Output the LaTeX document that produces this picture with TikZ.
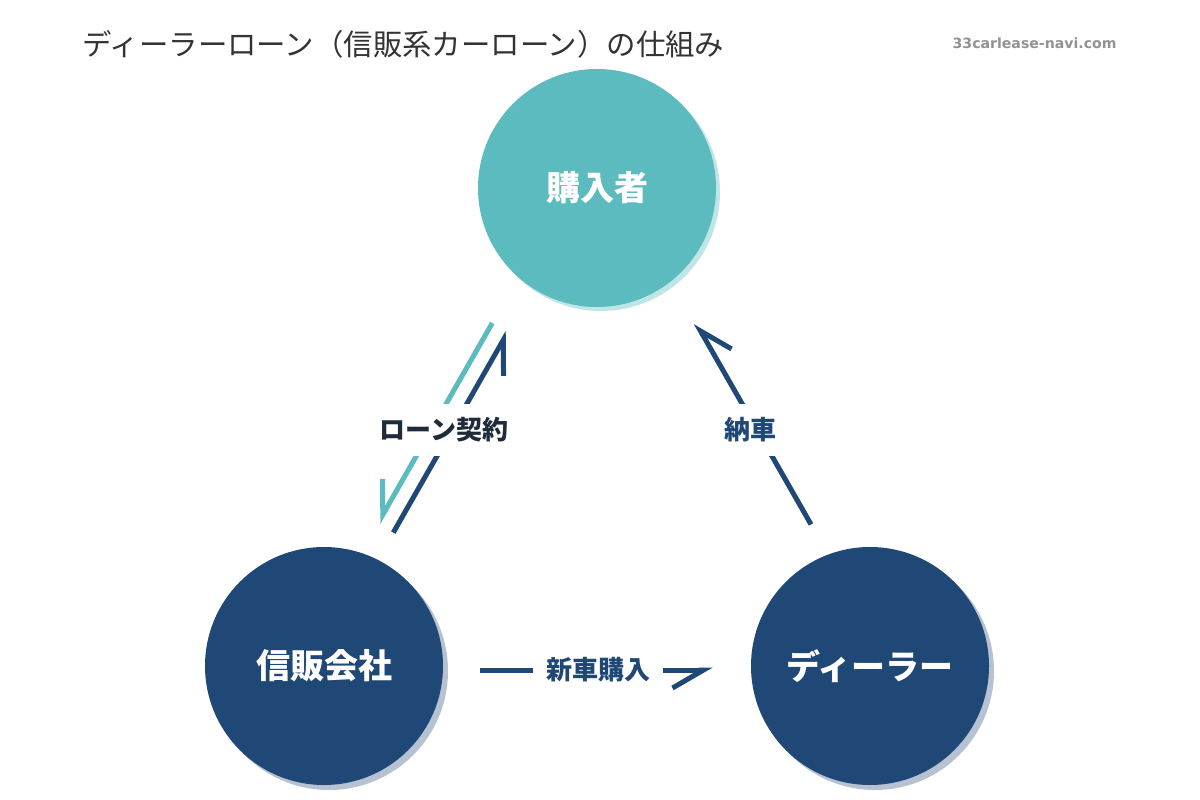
\documentclass[tikz,border=0pt]{standalone}
\usepackage{fontspec}
\setmainfont{Noto Sans CJK JP}
\newfontfamily\sitefont{DejaVu Sans}
\usetikzlibrary{arrows.meta,shadows}
\definecolor{buyerteal}{HTML}{5BBBBE}
\definecolor{tealshade}{HTML}{BFE5E6}
\definecolor{navy}{HTML}{1F4876}
\definecolor{navyshade}{HTML}{B6C2D2}
\definecolor{titlegray}{HTML}{333333}
\definecolor{inkdark}{HTML}{1E2B38}
\definecolor{sitegray}{HTML}{929292}
\tikzset{
 party/.style={circle,minimum size=238pt,inner sep=0pt,text=white,
  font=\fontsize{34}{40}\selectfont\bfseries},
 flow/.style={line width=5pt,
  -{Straight Barb[harpoon,swap,length=31pt,width=36pt,line width=5pt]}},
 flowlabel/.style={fill=white,inner xsep=13pt,inner ysep=13.5pt,
  font=\fontsize{26}{30}\selectfont\bfseries},
}
\begin{document}
\begin{tikzpicture}[x=1pt,y=-1pt]
 \useasboundingbox[fill=white] (0,0) rectangle (1200,800);
 % title
 \node[anchor=west,text=titlegray,font=\fontsize{29.4}{33}\selectfont] (title) at (79,44) {ディーラーローン（信販系カーローン）の仕組み};
 \node[anchor=east,text=sitegray,font=\sitefont\bfseries\fontsize{14.1}{16}\selectfont] (site) at (1120,43) {33carlease-navi.com};
 % parties
 \node[party,fill=buyerteal,drop shadow={shadow xshift=4pt,shadow yshift=-4pt,opacity=1,fill=tealshade}] (buyer) at (597,188) {購入者};
 \node[party,fill=navy,drop shadow={shadow xshift=5pt,shadow yshift=-5pt,opacity=1,fill=navyshade}] (shinpan) at (324,666) {信販会社};
 \node[party,fill=navy,drop shadow={shadow xshift=5pt,shadow yshift=-5pt,opacity=1,fill=navyshade}] (dealer) at (870,666) {ディーラー};
 % loan contract
 \draw[flow,buyerteal,shorten <=50pt,shorten >=32pt,transform canvas={shift={(-20.8pt,11.9pt)}}] (buyer) -- (shinpan);
 \draw[flow,navy,shorten <=31pt,shorten >=50pt,transform canvas={shift={(-5.2pt,3pt)}}] (shinpan) -- (buyer);
 % delivery
 \draw[flow,navy,shorten <=33pt,shorten >=47pt,transform canvas={shift={(16.5pt,9.4pt)}}] (dealer) -- (buyer);
 % purchase
 \draw[flow,navy,shorten <=37pt,shorten >=38pt,transform canvas={yshift=-4pt}] (shinpan) -- (dealer);
 % labels
 \node[flowlabel,text=inkdark] (loan) at (444,430) {ローン契約};
 \node[flowlabel,text=navy] (deliv) at (750,430) {納車};
 \node[flowlabel,text=navy] (purch) at (598,670) {新車購入};
\end{tikzpicture}
\end{document}
